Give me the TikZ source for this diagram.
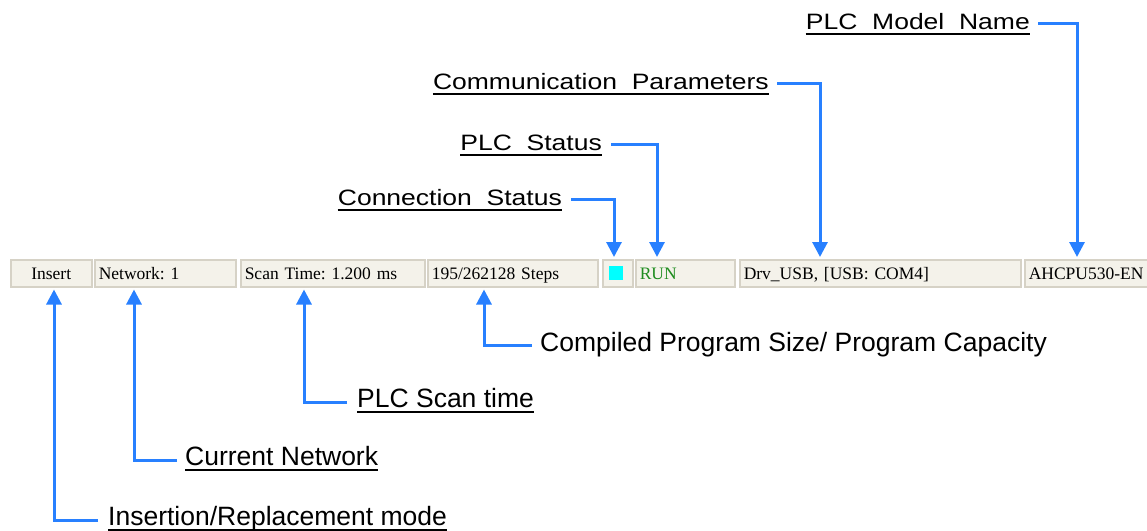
\documentclass[tikz,border=0pt]{standalone}
\usepackage{fontspec}
\usepackage{xcolor}
\usepackage{tikz}
\usetikzlibrary{arrows.meta, positioning}
\newfontfamily\labelfont{Liberation Sans}
\newfontfamily\barfont{Liberation Serif}
\definecolor{calloutblue}{RGB}{40,128,255}
\definecolor{barfill}{RGB}{244,242,234}
\definecolor{barline}{RGB}{214,210,198}
\definecolor{rungreen}{RGB}{30,140,30}
\definecolor{ledcyan}{RGB}{0,255,255}
\frenchspacing

\begin{document}
\begin{tikzpicture}[x=1pt, y=-1pt,
  cell/.style={draw=barline, fill=barfill, line width=1.5pt, minimum height=27pt,
    inner xsep=4pt, inner ysep=0pt, anchor=north west, align=left,
    text height=14pt, text depth=1pt,
    font=\barfont\fontsize{17.5}{20}\selectfont},
  callout/.style={draw=calloutblue, line width=3pt, shorten >=2pt,
    -{Triangle[width=15pt,length=15pt]}},
  toplab/.style={inner sep=0pt, anchor=base east, font=\labelfont\fontsize{26.5}{30}\selectfont},
  lowlab/.style={inner sep=0pt, anchor=base west, font=\labelfont\fontsize{26.5}{30}\selectfont},
  uline/.style={line width=2pt}]
  \useasboundingbox (0,0) rectangle (1147,530);

  \node[cell, text width=73pt, align=center] (insBox) at (10,259) {Insert};
  \node[cell, text width=133pt] (netBox) at (94,259) {Network: 1};
  \node[cell, text width=176pt] (scanBox) at (240,259) {Scan Time: 1.200 ms};
  \node[cell, text width=162pt] (stepBox) at (427,259) {195/262128 Steps};
  \node[cell, text width=22pt] (connBox) at (602,259) {};
  \node[fill=ledcyan, minimum size=14pt, inner sep=0pt] (connLed) at ([xshift=-2pt]connBox.center) {};
  \node[cell, text width=91pt, text=rungreen] (runBox) at (635,259) {RUN};
  \node[cell, text width=273pt] (drvBox) at (739,259) {Drv\_USB, [USB: COM4]};
  \node[cell, text width=116pt] (modelBox) at (1024,259) {AHCPU530-EN};

  \node[toplab] (modelLab) at (1030,29) {\scalebox{1}[0.84]{PLC~~Model~~Name}};
  \node[toplab] (commLab) at (769,89) {\scalebox{1}[0.84]{Communication~~Parameters}};
  \node[toplab] (statLab) at (602,150) {\scalebox{1}[0.84]{PLC~~Status}};
  \node[toplab] (connLab) at (562,205) {\scalebox{1}[0.84]{Connection~~Status}};

  \node[lowlab] (stepLab) at (540,351) {Compiled Program Size/ Program Capacity};
  \node[lowlab] (scanLab) at (357,407) {PLC Scan time};
  \node[lowlab] (netLab) at (185,465) {Current Network};
  \node[lowlab] (insLab) at (108,525) {Insertion/Replacement mode};

  \foreach \lab in {modelLab,commLab,statLab,connLab,scanLab,netLab,insLab}
    \draw[uline] ([yshift=-4.5pt]\lab.base west) -- ([yshift=-4.5pt]\lab.base east);

  \draw[callout] ([shift={(8pt,5.5pt)}]modelLab.base east) -| ([xshift=53pt]modelBox.north west);
  \draw[callout] ([shift={(8pt,5.5pt)}]commLab.base east) -| ([xshift=81pt]drvBox.north west);
  \draw[callout] ([shift={(9pt,5.5pt)}]statLab.base east) -| ([xshift=22pt]runBox.north west);
  \draw[callout] ([shift={(9pt,5.5pt)}]connLab.base east) -| ([xshift=12pt]connBox.north west);

  \draw[callout] ([shift={(-8pt,6pt)}]stepLab.base west) -| ([xshift=57pt]stepBox.south west);
  \draw[callout] ([shift={(-10pt,5pt)}]scanLab.base west) -| ([xshift=64pt]scanBox.south west);
  \draw[callout] ([shift={(-8pt,4.5pt)}]netLab.base west) -| ([xshift=40pt]netBox.south west);
  \draw[callout] ([shift={(-10pt,4.5pt)}]insLab.base west) -| ([xshift=44pt]insBox.south west);
\end{tikzpicture}
\end{document}
